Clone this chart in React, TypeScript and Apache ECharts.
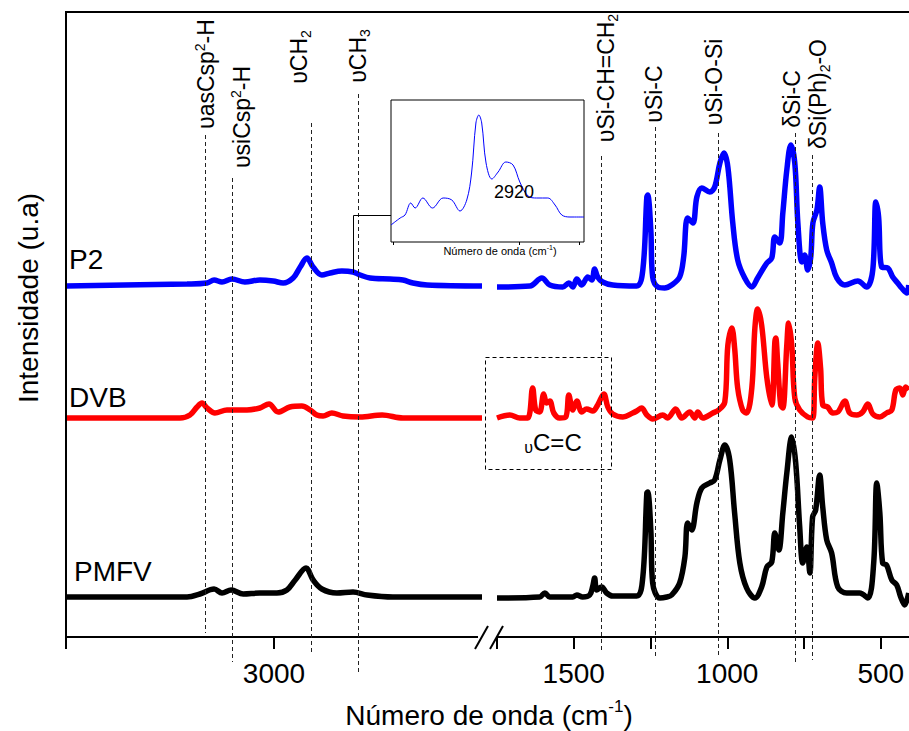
import React, { useEffect, useRef } from 'react';
import * as echarts from 'echarts';

const FONT = '"Liberation Sans", Arial, Helvetica, sans-serif';

// ---- Spectra: [wavenumber (cm-1), offset intensity (a.u.)] ----
const p2Left: [number, number][] = [
  [3500, 351], [3209, 353], [3161, 354], [3144, 357], [3125, 355], [3101, 358], [3070, 355], [3034, 357],
  [3002, 356], [2978, 354], [2954, 359], [2937, 370], [2921, 379], [2906, 370], [2885, 362], [2865, 364],
  [2837, 366], [2810, 365], [2793, 362], [2769, 359], [2721, 358], [2690, 357], [2666, 354], [2632, 352], [2500, 351],
];
const dvbLeft: [number, number][] = [
  [3500, 219], [3226, 219], [3202, 222], [3185, 230], [3173, 234], [3161, 229], [3142, 224], [3113, 227],
  [3065, 227], [3034, 229], [3012, 233], [2990, 225], [2962, 230], [2933, 231], [2913, 227], [2897, 222],
  [2882, 221], [2861, 224], [2834, 221], [2793, 220], [2740, 222], [2690, 219], [2500, 219],
];
const pmfvLeft: [number, number][] = [
  [3500, 40], [3209, 40], [3178, 43], [3144, 48], [3125, 44], [3103, 47], [3074, 43], [3034, 44], [2993, 44],
  [2969, 47], [2949, 57], [2923, 69], [2906, 57], [2885, 48], [2849, 44], [2810, 45], [2776, 42], [2714, 40], [2500, 40],
];
const p2Right: [number, number][] = [
  [1750, 350], [1643, 351], [1604, 359], [1578, 352], [1536, 350], [1516, 354], [1503, 350], [1490, 358],
  [1474, 352], [1454, 360], [1441, 357], [1432, 368], [1422, 360], [1406, 355], [1373, 352], [1295, 351],
  [1275, 367], [1262, 440], [1259, 442], [1249, 407], [1243, 360], [1226, 350], [1204, 349], [1181, 352],
  [1155, 360], [1142, 380], [1129, 419], [1112, 414], [1099, 440], [1083, 449], [1057, 445], [1041, 450],
  [1024, 474], [1011, 484], [998, 470], [982, 414], [966, 377], [943, 359], [920, 350], [901, 359],
  [871, 374], [855, 379], [845, 400], [829, 394], [819, 424], [806, 467], [793, 492], [780, 474],
  [770, 414], [757, 375], [748, 382], [738, 367], [728, 380], [721, 414], [708, 427], [699, 450],
  [689, 414], [676, 387], [660, 374], [643, 359], [617, 352], [575, 356], [546, 350], [526, 367],
  [516, 435], [507, 420], [497, 370], [477, 369], [461, 360], [445, 354], [432, 349], [415, 344], [409, 352],
];
const dvbRight: [number, number][] = [
  [1750, 219], [1708, 222], [1676, 219], [1650, 219], [1634, 249], [1624, 227], [1611, 225], [1598, 243],
  [1588, 234], [1578, 236], [1565, 224], [1546, 219], [1526, 220], [1516, 242], [1503, 227], [1490, 236],
  [1474, 225], [1458, 228], [1438, 226], [1422, 232], [1402, 243], [1389, 230], [1373, 223], [1340, 220],
  [1308, 224], [1295, 226], [1279, 229], [1262, 222], [1243, 218], [1210, 222], [1194, 219], [1168, 228],
  [1148, 219], [1122, 225], [1106, 219], [1096, 225], [1080, 219], [1047, 224], [1028, 227], [1008, 235],
  [998, 292], [985, 309], [976, 289], [966, 249], [950, 227], [937, 224], [920, 249], [910, 309],
  [901, 328], [888, 312], [871, 259], [855, 232], [845, 295], [842, 299], [836, 275], [826, 232],
  [819, 229], [806, 292], [800, 314], [790, 292], [780, 239], [764, 227], [738, 220], [722, 219],
  [715, 259], [705, 294], [696, 269], [689, 232], [673, 230], [656, 224], [640, 225], [617, 236],
  [601, 224], [578, 222], [559, 225], [542, 233], [526, 223], [503, 220], [481, 224], [464, 227],
  [451, 247], [438, 249], [428, 242], [419, 250], [409, 247],
];
const pmfvRight: [number, number][] = [
  [1750, 39], [1611, 40], [1594, 44], [1578, 40], [1503, 40], [1490, 42], [1471, 40], [1448, 42],
  [1438, 51], [1432, 59], [1425, 47], [1409, 50], [1393, 44], [1373, 41], [1295, 41], [1275, 60],
  [1262, 144], [1259, 145], [1249, 107], [1243, 54], [1220, 39], [1197, 40], [1181, 42], [1155, 54],
  [1138, 80], [1129, 114], [1116, 107], [1099, 134], [1083, 149], [1057, 154], [1041, 157], [1024, 177],
  [1008, 192], [992, 177], [976, 124], [959, 74], [937, 49], [910, 39], [888, 50], [871, 70],
  [855, 75], [845, 104], [832, 87], [819, 124], [806, 164], [790, 200], [777, 174], [764, 110],
  [754, 74], [741, 90], [731, 64], [722, 120], [712, 127], [699, 162], [689, 130], [676, 97],
  [660, 84], [640, 50], [611, 44], [569, 44], [542, 39], [523, 74], [513, 154], [503, 124],
  [494, 74], [481, 72], [464, 57], [448, 52], [435, 40], [422, 32], [409, 44],
];
// Inset: P2 in the C-H stretching region
const insetP2: [number, number][] = [
  [3100, 17], [3081, 24], [3071, 27], [3059, 39], [3050, 34], [3034, 44], [3014, 34], [2992, 44],
  [2974, 42], [2957, 31], [2943, 42], [2933, 69], [2924, 119], [2918, 127], [2912, 119], [2903, 79],
  [2891, 63], [2878, 70], [2862, 80], [2847, 77], [2833, 60], [2816, 46], [2798, 44], [2775, 44],
  [2760, 37], [2746, 27], [2729, 25], [2700, 25],
];

// ---- Axis ticks / labels ----
const leftTicks = [3500, 3000];
const leftLabels = [3000];
const rightTicks = [1750, 1500, 1250, 1000, 750, 500];
const rightLabels = [1500, 1000, 500];
const insetTicks = [3095, 2835, 2710];

// ---- Band assignments (wavenumbers) ----
const leftBands = [3166, 3101, 2911, 2798];
const rightBands = [1410, 1234, 1029, 779, 725];
const bandLabels = [
  '{m|υasCsp}{sup|2}{m|-H}',
  '{m|υsiCsp}{sup|2}{m|-H}',
  '{m|υCH}{sub|2}',
  '{m|υCH}{sub|3}',
  '{m|υSi-CH=CH}{sub|2}',
  '{m|υSi-C}',
  '{m|υSi-O-Si}',
  '{m|δSi-C}',
  '{m|δSi(Ph)}{sub|2}{m|-O}',
];
const seriesNames = ['P2', 'DVB', 'PMFV'];

export default function App() {
  const ref = useRef<HTMLDivElement>(null);
  useEffect(() => {
    const el = ref.current;
    if (!el) return;
    const chart = echarts.init(el, null, { renderer: 'svg' });
    const black = '#000';
    const mkX = (gridIndex: number, min: number, max: number, ticks: number[], labels: number[]) => ({
      type: 'value', gridIndex, min, max, inverse: true,
      axisLine: { show: true, onZero: false, lineStyle: { color: black, width: 2 } },
      axisTick: { show: true, inside: false, length: 12, customValues: ticks, lineStyle: { color: black, width: 2 } },
      axisLabel: {
        show: true, customValues: labels, fontSize: 28, color: black, margin: 22, fontFamily: FONT,
        formatter: (v: number) => String(v),
      },
      splitLine: { show: false },
    });
    const line = (name: string, data: [number, number][], axis: number, color: string, width = 5.5) => ({
      type: 'line', name, data, xAxisIndex: axis, yAxisIndex: axis, showSymbol: false, smooth: 0.35,
      lineStyle: { color, width }, itemStyle: { color }, z: 3,
    });
    chart.setOption({
      animation: false,
      backgroundColor: '#fff',
      textStyle: { fontFamily: FONT },
      grid: [
        { left: 66, top: 12, width: 416, height: 625 },
        { left: 497, top: 12, width: 412, height: 625 },
        { left: 391, top: 100, width: 193, height: 142, show: true, borderColor: black, borderWidth: 1, backgroundColor: '#fff', z: 5 },
      ],
      xAxis: [
        mkX(0, 2500, 3500, leftTicks, leftLabels),
        mkX(1, 408, 1750, rightTicks, rightLabels),
        {
          type: 'value', gridIndex: 2, min: 2700, max: 3100, inverse: true,
          axisLine: { show: false },
          axisTick: { show: true, inside: false, length: 3, customValues: insetTicks, lineStyle: { color: black, width: 1 } },
          axisLabel: { show: false }, splitLine: { show: false },
        },
      ],
      yAxis: [
        { type: 'value', gridIndex: 0, min: 0, max: 625, show: false },
        { type: 'value', gridIndex: 1, min: 0, max: 625, show: false },
        { type: 'value', gridIndex: 2, min: 0, max: 142, show: false },
      ],
      series: [
        line(seriesNames[0], p2Left, 0, '#0000ff'),
        line(seriesNames[1], dvbLeft, 0, '#ff0000'),
        line(seriesNames[2], pmfvLeft, 0, '#000000'),
        line(seriesNames[0], p2Right, 1, '#0000ff'),
        line(seriesNames[1], dvbRight, 1, '#ff0000'),
        line(seriesNames[2], pmfvRight, 1, '#000000'),
        { ...line('P2 inset', insetP2, 2, '#0000ff', 1), z: 6 },
      ],
    });

    const bandX = [
      ...leftBands.map((w) => chart.convertToPixel({ xAxisIndex: 0 }, w) as number),
      ...rightBands.map((w) => chart.convertToPixel({ xAxisIndex: 1 }, w) as number),
    ];
    const bandTop = [135, 178, 123, 94, 156, 127, 133, 133, 155];
    const bandBottom = [633, 662, 652, 672, 653, 657, 655, 662, 660];
    const labelPos = [
      [206, 74], [242, 117], [299, 57], [358, 56], [606, 78], [654, 94], [714, 82], [792, 99], [818, 94],
    ];
    const richLab = {
      m: { fontSize: 23, lineHeight: 27, fontFamily: FONT, color: black },
      sup: { fontSize: 14, lineHeight: 14, fontFamily: FONT, color: black, verticalAlign: 'top' },
      sub: { fontSize: 14, lineHeight: 14, fontFamily: FONT, color: black, verticalAlign: 'bottom' },
    };
    const graphics: any[] = [];
    // frame
    graphics.push({ type: 'line', z: 10, shape: { x1: 66, y1: 12, x2: 909, y2: 12 }, style: { stroke: black, lineWidth: 2 } });
    graphics.push({ type: 'line', z: 10, shape: { x1: 66, y1: 11, x2: 66, y2: 638 }, style: { stroke: black, lineWidth: 2 } });
    // break marks
    graphics.push({ type: 'rect', z: 9, shape: { x: 478, y: 632, width: 18, height: 10 }, style: { fill: '#fff' } });
    graphics.push({ type: 'line', z: 10, shape: { x1: 475, y1: 649, x2: 488, y2: 626 }, style: { stroke: black, lineWidth: 2 } });
    graphics.push({ type: 'line', z: 10, shape: { x1: 490, y1: 649, x2: 503, y2: 626 }, style: { stroke: black, lineWidth: 2 } });
    // band lines + labels
    bandX.forEach((x, i) => {
      const xx = Math.round(x) + 0.5;
      graphics.push({
        type: 'line', z: 10, shape: { x1: xx, y1: bandTop[i], x2: xx, y2: bandBottom[i] },
        style: { stroke: '#222', lineWidth: 1, lineDash: [4, 3] },
      });
      graphics.push({
        type: 'text', z: 10, x: labelPos[i][0], y: labelPos[i][1], rotation: Math.PI / 2,
        style: { text: bandLabels[i], rich: richLab, align: 'center', verticalAlign: 'middle', fill: black },
      });
    });
    // series labels
    const serY = [259, 397, 571];
    const serX = [69, 69, 74];
    seriesNames.forEach((n, i) => {
      graphics.push({
        type: 'text', z: 10, x: serX[i], y: serY[i],
        style: { text: n, fontSize: 28, fontFamily: FONT, fill: black, align: 'left', verticalAlign: 'middle' },
      });
    });
    // axis titles
    graphics.push({
      type: 'text', z: 10, x: 28, y: 298, rotation: Math.PI / 2,
      style: { text: 'Intensidade (u.a)', fontSize: 28, fontFamily: FONT, fill: black, align: 'center', verticalAlign: 'middle' },
    });
    graphics.push({
      type: 'text', z: 10, x: 489, y: 715,
      style: {
        text: '{m|Número de onda (cm}{sup|-1}{m|)}', align: 'center', verticalAlign: 'middle',
        rich: {
          m: { fontSize: 28, lineHeight: 34, fontFamily: FONT, color: black },
          sup: { fontSize: 17, lineHeight: 17, fontFamily: FONT, color: black, verticalAlign: 'top' },
        },
      },
    });
    // C=C dashed box
    graphics.push({
      type: 'rect', z: 10, shape: { x: 485.5, y: 357.5, width: 126, height: 112 },
      style: { fill: 'none', stroke: black, lineWidth: 1, lineDash: [4, 3] },
    });
    graphics.push({
      type: 'text', z: 10, x: 553, y: 442,
      style: {
        text: '{u|υ}{m|C=C}', align: 'center', verticalAlign: 'middle',
        rich: {
          u: { fontSize: 16, lineHeight: 16, fontFamily: FONT, color: black, verticalAlign: 'bottom' },
          m: { fontSize: 24, lineHeight: 26, fontFamily: FONT, color: black },
        },
      },
    });
    // inset connector and texts
    graphics.push({
      type: 'polyline', z: 10, shape: { points: [[353.5, 273], [353.5, 215.5], [391, 215.5]] },
      style: { stroke: black, lineWidth: 1, fill: 'none' },
    });
    graphics.push({
      type: 'text', z: 11, x: 514, y: 192,
      style: { text: '2920', fontSize: 18, fontFamily: FONT, fill: black, align: 'center', verticalAlign: 'middle' },
    });
    graphics.push({
      type: 'text', z: 11, x: 500, y: 251,
      style: {
        text: '{m|Número de onda (cm}{sup|-1}{m|)}', align: 'center', verticalAlign: 'middle',
        rich: {
          m: { fontSize: 11, lineHeight: 14, fontFamily: FONT, color: black },
          sup: { fontSize: 7, lineHeight: 7, fontFamily: FONT, color: black, verticalAlign: 'top' },
        },
      },
    });
    chart.setOption({ graphic: graphics });

    return () => chart.dispose();
  }, []);
  return (
    <div
      ref={ref}
      style={{ position: 'fixed', left: 0, top: 0, width: 909, height: 731, background: '#fff' }}
    />
  );
}
